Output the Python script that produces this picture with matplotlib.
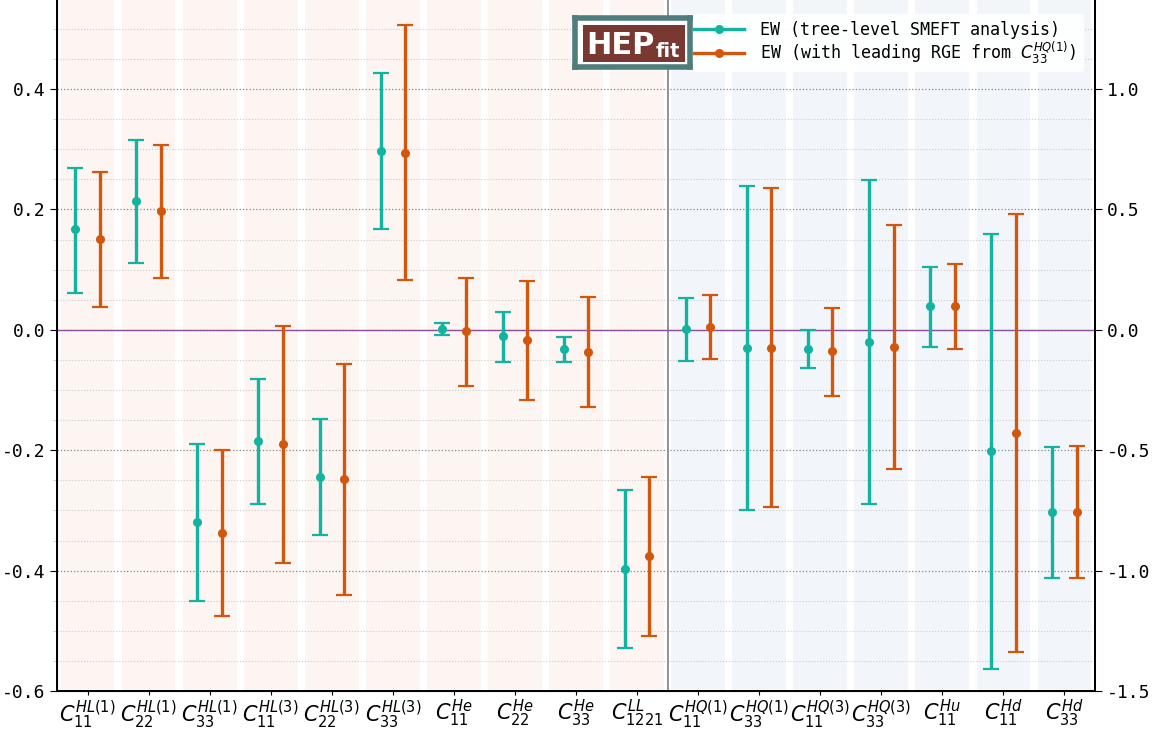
import matplotlib
matplotlib.use('Agg')
import matplotlib.pyplot as plt
from matplotlib.patches import Rectangle
from matplotlib.lines import Line2D
from matplotlib.ticker import MultipleLocator
import numpy as np

plt.rcParams['font.family'] = 'DejaVu Sans Mono'
plt.rcParams['axes.unicode_minus'] = False
plt.rcParams['mathtext.fontset'] = 'dejavusans'

# operator labels
labels = [r'$C_{11}^{HL(1)}$', r'$C_{22}^{HL(1)}$', r'$C_{33}^{HL(1)}$',
          r'$C_{11}^{HL(3)}$', r'$C_{22}^{HL(3)}$', r'$C_{33}^{HL(3)}$',
          r'$C_{11}^{He}$', r'$C_{22}^{He}$', r'$C_{33}^{He}$', r'$C_{1221}^{LL}$',
          r'$C_{11}^{HQ(1)}$', r'$C_{33}^{HQ(1)}$', r'$C_{11}^{HQ(3)}$',
          r'$C_{33}^{HQ(3)}$', r'$C_{11}^{Hu}$', r'$C_{11}^{Hd}$', r'$C_{33}^{Hd}$']

# tree-level fit: central, lower, upper
tree_c = [0.168, 0.214, -0.319, -0.184, -0.244, 0.297, 0.002, -0.010, -0.032, -0.398,
          0.002, -0.030, -0.032, -0.020, 0.040, -0.202, -0.302]
tree_lo = [0.061, 0.111, -0.451, -0.290, -0.340, 0.168, -0.008, -0.053, -0.053, -0.529,
           -0.051, -0.300, -0.063, -0.290, -0.028, -0.564, -0.412]
tree_hi = [0.269, 0.315, -0.189, -0.081, -0.148, 0.427, 0.012, 0.030, -0.012, -0.266,
           0.053, 0.239, -0.001, 0.249, 0.105, 0.159, -0.194]

# with leading RGE
rge_c = [0.151, 0.198, -0.337, -0.189, -0.247, 0.294, -0.002, -0.017, -0.037, -0.375,
         0.005, -0.030, -0.035, -0.028, 0.040, -0.171, -0.302]
rge_lo = [0.038, 0.086, -0.476, -0.387, -0.440, 0.083, -0.093, -0.116, -0.129, -0.508,
          -0.048, -0.295, -0.110, -0.231, -0.032, -0.536, -0.413]
rge_hi = [0.262, 0.307, -0.199, 0.007, -0.056, 0.506, 0.086, 0.081, 0.055, -0.244,
          0.058, 0.236, 0.037, 0.174, 0.110, 0.193, -0.193]

n_lep = 10  # first ten are lepton-sector operators

teal = '#12b3a0'
orange = '#d2570c'
lab_tree = 'EW (tree-level SMEFT analysis)'
lab_rge = r'EW (with leading RGE from $C_{33}^{HQ(1)}$)'

fig = plt.figure(figsize=(11.64, 7.29), dpi=100)
ax = fig.add_axes([57/1164, 1 - 691/729, (1095 - 57)/1164, 691/729])

x = np.arange(len(labels))
for i in x:
    col = '#fcf5f2' if i < n_lep else '#f2f6fb'
    ax.axvspan(i - 0.44, i + 0.44, color=col, zorder=0, lw=0)

ax.axvline(n_lep - 0.5, color='#8a8a8a', lw=1.3, zorder=1)
ax.axhline(0, color='#8e4f9c', lw=1.0, zorder=1)

tc = np.array(tree_c)
rc = np.array(rge_c)
terr = [tc - np.array(tree_lo), np.array(tree_hi) - tc]
rerr = [rc - np.array(rge_lo), np.array(rge_hi) - rc]

ax.errorbar(x - 0.2, tc, yerr=terr, fmt='o', color=teal, ecolor=teal, elinewidth=2.4,
            capsize=5.5, capthick=1.6, markersize=5.5, zorder=3)
ax.errorbar(x + 0.2, rc, yerr=rerr, fmt='o', color=orange, ecolor=orange, elinewidth=2.4,
            capsize=5.5, capthick=1.6, markersize=5.5, zorder=3)

ax.set_xlim(-0.5, len(labels) - 0.5)
ax.set_ylim(-0.6, 0.548)
ax.set_xticks(x)
ax.set_xticklabels(labels, fontsize=15)
ax.tick_params(axis='x', length=3, pad=2)
ax.yaxis.set_major_locator(MultipleLocator(0.2))
ax.yaxis.set_minor_locator(MultipleLocator(0.05))
ax.tick_params(axis='y', which='major', labelsize=13, length=5)
ax.tick_params(axis='y', which='minor', length=3, color='#cccccc')
ax.grid(axis='y', which='major', linestyle=':', color='#888888', lw=0.9, zorder=1)
ax.grid(axis='y', which='minor', linestyle=':', color='#cccccc', lw=0.8, zorder=1)
ax.set_axisbelow(True)
ax.spines['top'].set_visible(False)
for s in ['left', 'bottom', 'right']:
    ax.spines[s].set_linewidth(1.4)

ax2 = ax.twinx()
ax2.set_ylim(-1.5, 0.548 * 2.5)
ax2.yaxis.set_major_locator(MultipleLocator(0.5))
ax2.tick_params(axis='y', labelsize=13, length=5)
ax2.spines['top'].set_visible(False)
ax2.spines['right'].set_linewidth(1.4)

handles = [Line2D([], [], color=teal, lw=2.4, marker='o', markersize=5.5),
           Line2D([], [], color=orange, lw=2.4, marker='o', markersize=5.5)]
leg = ax.legend(handles, [lab_tree, lab_rge], loc='upper right',
                bbox_to_anchor=(0.997, 0.992), fontsize=12,
                frameon=True, framealpha=0.9, edgecolor='none',
                handlelength=3.0, borderpad=0.4, labelspacing=0.02,
                handletextpad=1.0)
leg.set_zorder(5)

# HEPfit logo
lax = fig.add_axes([575/1164, 1 - 67/729, 115/1164, 49/729])
lax.set_facecolor('white')
lax.set_xticks([])
lax.set_yticks([])
for s in lax.spines.values():
    s.set_color('#4e7d7b')
    s.set_linewidth(4)
lax.add_patch(Rectangle((0.07, 0.1), 0.887, 0.76, transform=lax.transAxes,
                        facecolor='#7a3832', edgecolor='none'))
lax.text(0.1, 0.43, 'HEP', color='white', fontsize=22, fontweight='bold',
         family='DejaVu Sans', va='center', ha='left', transform=lax.transAxes)
lax.text(0.7, 0.2, 'fit', color='white', fontsize=14, fontweight='bold',
         family='DejaVu Sans', va='baseline', ha='left', transform=lax.transAxes)

fig.savefig('out.png', dpi=100)
